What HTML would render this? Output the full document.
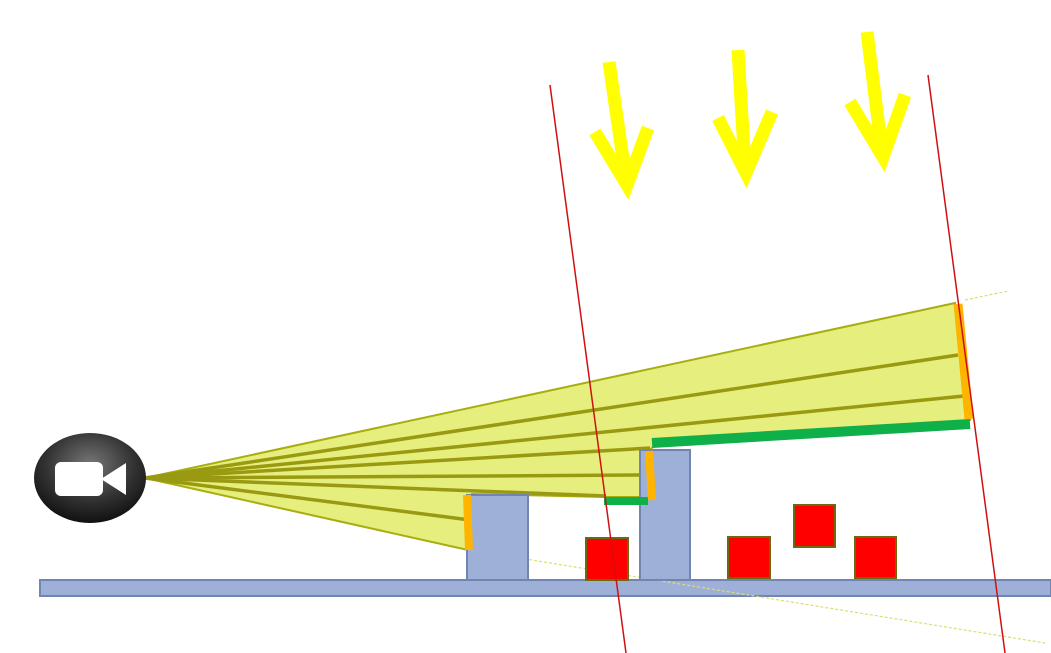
<!DOCTYPE html>
<html><head><meta charset="utf-8"><style>
html,body{margin:0;padding:0;background:#fff;width:1051px;height:653px;overflow:hidden}
svg{display:block}
</style></head><body>
<svg width="1051" height="653" viewBox="0 0 1051 653">
  <defs>
    <radialGradient id="camg" cx="50%" cy="35%" r="65%">
      <stop offset="0" stop-color="#777"/><stop offset="0.6" stop-color="#333"/><stop offset="1" stop-color="#111"/>
    </radialGradient>
    <marker id="ah" markerWidth="4" markerHeight="4" refX="2" refY="2" orient="auto"><path d="M0,0 L4,2 L0,4" fill="none"/></marker>
  </defs>
  <!-- ground -->
  <rect x="40" y="580" width="1011" height="16" fill="#9fb0d8" stroke="#7284b0" stroke-width="2"/>
  <!-- faint dashed rays -->
  <line x1="470" y1="550" x2="1045" y2="643" stroke="#d8e070" stroke-width="1.2" stroke-dasharray="3,2"/>
  <line x1="965" y1="300" x2="1008" y2="291" stroke="#d8e070" stroke-width="1.2" stroke-dasharray="3,2"/>
  <!-- frustum fill -->
  <polygon points="145,478 955,303 970,420 655,445 648,452 645,497 606,497 472,494 468,550" fill="#e6ef7d" stroke="#a8ad10" stroke-width="2"/>
  <g stroke="#9a9a12" stroke-width="3.5" fill="none">
    <line x1="145" y1="478" x2="958" y2="355"/>
    <line x1="145" y1="478" x2="964" y2="396"/>
    <line x1="145" y1="478" x2="650" y2="448"/>
    <line x1="145" y1="478" x2="645" y2="475"/>
    <line x1="145" y1="478" x2="606" y2="496"/>
    <line x1="145" y1="478" x2="470" y2="520"/>
  </g>
  <!-- pillars -->
  <rect x="467" y="495" width="61" height="85" fill="#9fb0d8" stroke="#7284b0" stroke-width="2"/>
  <rect x="640" y="450" width="50" height="130" fill="#9fb0d8" stroke="#7284b0" stroke-width="2"/>
  <!-- green visible surfaces -->
  <line x1="652" y1="443" x2="970" y2="424" stroke="#0fb04a" stroke-width="10"/>
  <line x1="604" y1="501" x2="648" y2="501" stroke="#0fb04a" stroke-width="8"/>
  <!-- orange occluder edges -->
  <line x1="467" y1="495" x2="469" y2="550" stroke="#ffb400" stroke-width="8"/>
  <line x1="649" y1="451" x2="652" y2="500" stroke="#ffb400" stroke-width="8"/>
  <line x1="958" y1="304" x2="969" y2="419" stroke="#ffb400" stroke-width="9"/>
  <!-- red objects -->
  <g fill="#ff0000" stroke="#6a6a10" stroke-width="2">
    <rect x="586" y="538" width="42" height="42"/>
    <rect x="728" y="537" width="42" height="41"/>
    <rect x="794" y="505" width="41" height="42"/>
    <rect x="855" y="537" width="41" height="41"/>
  </g>
  <!-- red bounding lines -->
  <line x1="550" y1="85" x2="626" y2="653" stroke="#d01010" stroke-width="1.5"/>
  <line x1="928" y1="75" x2="1005" y2="653" stroke="#d01010" stroke-width="1.5"/>
  <!-- yellow arrows -->
  <g stroke="#ffff00" stroke-width="13" fill="none" stroke-linecap="butt">
    <line x1="609" y1="62" x2="626" y2="180"/><polyline points="595,132 627,185 648,128"/>
    <line x1="738" y1="50" x2="745" y2="168"/><polyline points="718,118 746,173 772,112"/>
    <line x1="867" y1="32" x2="882" y2="152"/><polyline points="850,102 883,157 905,95"/>
  </g>
  <!-- camera icon -->
  <g>
    <ellipse cx="90" cy="478" rx="56" ry="45" fill="url(#camg)"/>
    <rect x="55" y="462" width="48" height="34" rx="6" fill="#fff"/>
    <polygon points="101,479 126,463 126,495" fill="#fff"/>
  </g>
</svg>
</body></html>
